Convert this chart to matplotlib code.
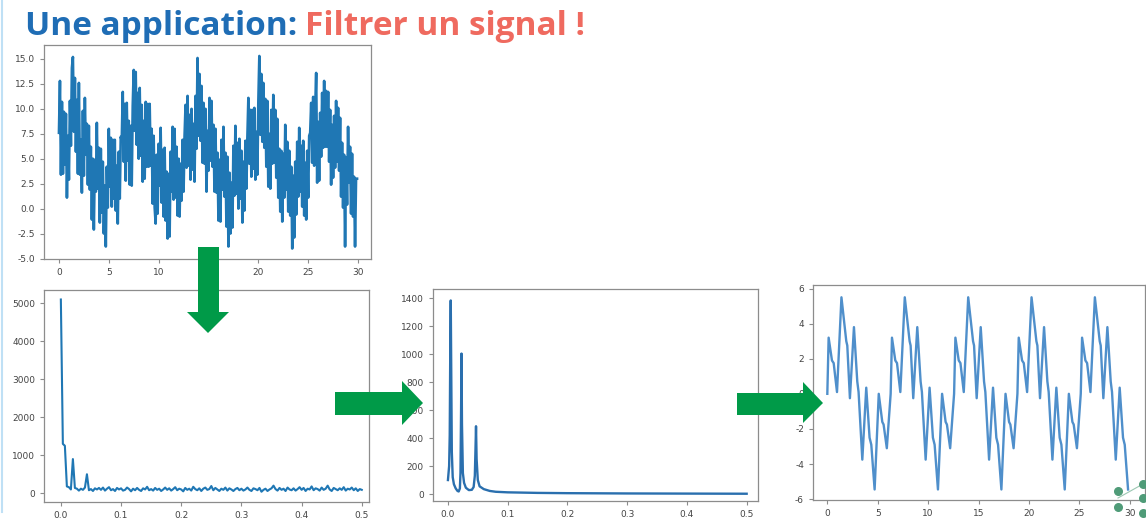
import numpy as np
import matplotlib
matplotlib.use("Agg")
import matplotlib.pyplot as plt
from matplotlib.patches import Polygon

plt.rcParams["axes.unicode_minus"] = False

# ---------------- data ----------------
# noisy signal, sampled every 0.1 s from t = 0 to 29.9
noisy_signal = [
    7.6, 12.8, 3.4, 10.7, 3.5, 9.7, 4.4, 9.5, 1.1, 7.3,
    2.9, 10.8, 6.3, 14.1, 15.2, 7.7, 13.1, 5.7, 10.9, 3.5,
    12.6, 3.4, 6.9, 1.6, 9.8, 3.3, 11.1, 5.4, 8.5, 2.4,
    8.3, 1.9, 6.2, -1.1, 5.0, -2.1, 4.9, 1.7, 8.6, 2.0,
    6.1, -1.4, 6.0, -0.4, 4.7, -2.5, 2.3, -3.8, 4.2, 0.1,
    8.0, 2.2, 7.1, 0.2, 6.9, 1.0, 6.9, -0.2, 4.3, -1.5,
    5.7, 1.0, 7.2,
    6.8, 11.7, 4.7, 10.5, 2.8, 10.6, 4.8, 8.8, 2.4, 8.3,
    2.3, 10.3, 13.9, 7.8, 13.7, 6.4, 11.6, 5.0, 12.1, 5.3,
    10.4, 2.7, 8.8, 3.0, 10.7, 4.2, 10.5, 4.2, 10.5, 4.3,
    8.0, 0.5, 7.3, 0.1, -1.5, 5.4, -0.5, 6.5, 2.3, 8.1,
    0.6, 5.9, -0.8, 6.1, -1.2, 3.7, -3.0, 3.5, -2.8, 5.7,
    1.7, 8.2, 0.9, 8.0, 1.1, 6.2, -0.7, 5.0, -0.8, 4.5,
    0.8, 6.9, 1.7,
    7.3, 10.4, 4.1, 11.3, 4.3, 9.4, 2.9, 10.0, 3.9, 8.5,
    2.7, 11.3, 6.0, 15.1, 7.3, 13.5, 6.8, 12.3, 4.6, 10.6,
    4.5, 10.0, 1.7, 7.8, 3.8, 11.1, 4.8, 10.8, 4.2, 8.4,
    1.7, 8.0, 1.6, 5.6, -1.2, 4.9, -1.3, 6.9, 1.9, 8.2,
    1.2, 5.6, -1.8, 5.2, -3.8, 3.6, -2.5, 2.6, -1.9, 6.3,
    1.3, 8.3, 1.5, 6.6, 0.0, 7.0, 1.0, 5.8, -1.4, 4.7,
    -0.2, 6.8, 2.0,
    7.1, 11.1, 4.5, 9.9, 3.2, 9.9, 4.0, 10.1, 2.9, 7.7,
    3.4, 10.7, 15.3, 7.4, 13.5, 6.7, 12.6, 6.1, 11.0, 4.2,
    10.8, 2.2, 7.5, 2.0, 9.9, 4.5, 11.4, 4.6, 9.9, 3.1,
    9.0, 1.1, 6.0, -0.3, 5.8, -1.3, 5.5, 1.1, 8.4, 1.9,
    6.7, -0.3, 5.8, -0.7, 4.2, -4.0, 3.3, -2.9, 4.7, -0.6,
    6.7, 1.2, 8.1, 1.7, 6.3, 0.2, 6.8, -0.7, 4.6, -1.1,
    5.8, 1.1, 7.3,
    7.6, 10.6, 4.6, 11.2, 4.3, 9.8, 13.6, 2.6, 8.7, 2.8,
    9.6, 5.2, 11.6, 6.1, 12.8, 6.2, 11.8, 6.2, 11.7, 4.7,
    9.9, 2.4, 8.4, 3.1, 9.3, 4.1, 10.8, 4.7, 10.1, 3.8,
    9.1, 1.2, 6.6, 0.1, 5.4, -3.8, 5.1, 0.4, 8.2, 2.6,
    6.2, -0.5, 5.5, -0.8, 3.2, -3.8, 3.0, 3.0,
]

# spectrum of the noisy signal (frequency 0 to 0.5)
spectrum_raw = [
    5100, 1300, 1250, 180, 160, 100, 900, 140, 120, 70,
    120, 90, 150, 500, 80, 110, 60, 130, 100, 140,
    90, 150, 70, 120, 160, 80, 110, 60, 140, 100,
    130, 70, 90, 150, 110, 50, 120, 80, 140, 90,
    60, 130, 100, 170, 80, 110, 70, 140, 90, 120,
    60, 100, 150, 90, 130, 70, 110, 160, 80, 120,
    100, 50, 140, 90, 120, 70, 170, 110, 80, 130,
    60, 120, 150, 90, 110, 190, 80, 140, 100, 60,
    120, 90, 150, 70, 130, 100, 60, 110, 140, 80,
    120, 70, 100, 150, 90, 60, 130, 110, 80, 140,
    40, 90, 120, 60, 100, 130, 200, 110, 70, 140,
    90, 120, 60, 150, 100, 80, 130, 70, 110, 160,
    90, 140, 60, 120, 100, 180, 80, 130, 110, 70,
    150, 90, 120, 200, 100, 60, 140, 110, 80, 130,
    90, 160, 70, 120, 100, 150, 80, 130, 60, 110,
    90,
]

# smoothed spectrum
freq_smooth = [0.000, 0.002, 0.003, 0.004, 0.0047, 0.0055, 0.0065, 0.008, 0.010,
               0.013, 0.016, 0.018, 0.020, 0.021, 0.022, 0.0227, 0.0235, 0.025,
               0.027, 0.030, 0.035, 0.040, 0.043, 0.045, 0.046, 0.047, 0.048,
               0.050, 0.053, 0.060, 0.070, 0.080, 0.100, 0.150, 0.200, 0.300,
               0.400, 0.500]
spectrum_smooth = [100, 200, 420, 1100, 1385, 900, 300, 120, 70,
                   40, 22, 18, 40, 150, 600, 1005, 500, 150,
                   80, 45, 28, 30, 50, 130, 300, 485, 250,
                   100, 55, 35, 22, 16, 12, 8, 6, 4,
                   3, 2]

# filtered signal (turning points)
t_filtered = [
    0.00, 0.13, 0.46, 0.63, 0.96, 1.40, 1.88, 1.98, 2.24, 2.64, 2.97, 3.10,
    3.47, 3.86, 4.19, 4.36, 4.69, 5.10, 5.45, 5.58, 5.90,
    6.28, 6.41, 6.74, 6.91, 7.24, 7.68, 8.16, 8.26, 8.52, 8.92, 9.25, 9.38,
    9.75, 10.14, 10.47, 10.64, 10.97, 11.38, 11.73, 11.86, 12.18,
    12.57, 12.70, 13.03, 13.20, 13.53, 13.97, 14.45, 14.55, 14.81, 15.21, 15.54, 15.67,
    16.04, 16.43, 16.76, 16.93, 17.26, 17.67, 18.02, 18.15, 18.47,
    18.85, 18.98, 19.31, 19.48, 19.81, 20.25, 20.73, 20.83, 21.09, 21.49, 21.82, 21.95,
    22.32, 22.71, 23.04, 23.21, 23.54, 23.95, 24.30, 24.43, 24.75,
    25.13, 25.26, 25.59, 25.76, 26.09, 26.53, 27.01, 27.11, 27.37, 27.77, 28.10, 28.23,
    28.60, 28.99, 29.32, 29.49, 29.82,
]
filtered_signal = [
    0.0, 3.2, 1.9, 1.75, 0.1, 5.5, 3.0, 2.75, -0.25, 3.8, 0.7, 0.1,
    -3.75, 0.35, -2.5, -2.9, -5.45, 0.0, -1.6, -1.75, -3.1,
    0.0, 3.2, 1.9, 1.75, 0.1, 5.5, 3.0, 2.75, -0.25, 3.8, 0.7, 0.1,
    -3.75, 0.35, -2.5, -2.9, -5.45, 0.0, -1.6, -1.75, -3.1,
    0.0, 3.2, 1.9, 1.75, 0.1, 5.5, 3.0, 2.75, -0.25, 3.8, 0.7, 0.1,
    -3.75, 0.35, -2.5, -2.9, -5.45, 0.0, -1.6, -1.75, -3.1,
    0.0, 3.2, 1.9, 1.75, 0.1, 5.5, 3.0, 2.75, -0.25, 3.8, 0.7, 0.1,
    -3.75, 0.35, -2.5, -2.9, -5.45, 0.0, -1.6, -1.75, -3.1,
    0.0, 3.2, 1.9, 1.75, 0.1, 5.5, 3.0, 2.75, -0.25, 3.8, 0.7, 0.1,
    -3.75, 0.35, -2.5, -2.9, -5.45,
]

t_noisy = np.arange(len(noisy_signal)) * 0.1
freq_raw = np.linspace(0, 0.5, len(spectrum_raw))

W, H = 1146, 524
BLUE = "#1f77b4"
GREEN = "#009a48"


def px_axes(fig, left, top, right, bottom):
    return fig.add_axes([left / W, 1 - bottom / H, (right - left) / W, (bottom - top) / H])


def style(ax):
    for sp in ax.spines.values():
        sp.set_color("#8c8c8c")
        sp.set_linewidth(0.9)
    ax.tick_params(labelsize=6.5, colors="#8c8c8c", labelcolor="#444444", length=3)


fig = plt.figure(figsize=(W / 100, H / 100), dpi=100)

ax1 = px_axes(fig, 44, 45, 371, 259)
ax1.plot(t_noisy, noisy_signal, color=BLUE, lw=1.9)
ax1.set_xlim(-1.5, 31.3)
ax1.set_ylim(-5.05, 16.4)
ax1.set_yticks(np.arange(-5, 15.1, 2.5))
ax1.set_xticks(range(0, 31, 5))
style(ax1)

ax2 = px_axes(fig, 44, 290, 369, 502)
ax2.plot(freq_raw, spectrum_raw, color=BLUE, lw=1.5)
ax2.set_xlim(-0.028, 0.512)
ax2.set_ylim(-230, 5350)
ax2.set_yticks(range(0, 5001, 1000))
style(ax2)

ax3 = px_axes(fig, 433, 289, 758, 501)
ax3.plot(freq_smooth, spectrum_smooth, color="#2a6fae", lw=1.7)
ax3.set_xlim(-0.025, 0.519)
ax3.set_ylim(-50, 1467)
ax3.set_yticks(range(0, 1401, 200))
style(ax3)

ax4 = px_axes(fig, 813, 285, 1145, 500)
ax4.plot(t_filtered, filtered_signal, color="#4f8fcb", lw=1.7)
ax4.set_xlim(-1.42, 31.5)
ax4.set_ylim(-6.05, 6.2)
ax4.set_yticks(range(-6, 7, 2))
ax4.set_xticks(range(0, 31, 5))
style(ax4)

# overlay in pixel coordinates for the title and the green arrows
ov = fig.add_axes([0, 0, 1, 1], zorder=10)
ov.set_xlim(0, W)
ov.set_ylim(H, 0)
ov.axis("off")
ov.patch.set_alpha(0)

ov.plot([1.5, 1.5], [0, 512], color="#bfe0f5", lw=1.5)

t1 = ov.text(25, 35, "Une application:", color="#1f6db5", fontsize=24,
             fontweight="bold", family="Open Sans", va="baseline")
fig.canvas.draw()
x_end = t1.get_window_extent().x1
ov.text(x_end + 8, 35, "Filtrer un signal !", color="#ef6a5f", fontsize=24,
        fontweight="bold", family="Open Sans", va="baseline")

arrow_down = [(198, 247), (219, 247), (219, 312), (229, 312), (208, 333),
              (187, 312), (198, 312)]
arrow_right1 = [(335, 392), (402, 392), (402, 381), (423, 403), (402, 425),
                (402, 415), (335, 415)]
arrow_right2 = [(737, 393), (803, 393), (803, 382), (823, 403), (803, 423),
                (803, 415), (737, 415)]
for pts in (arrow_down, arrow_right1, arrow_right2):
    ov.add_patch(Polygon(pts, closed=True, color=GREEN, lw=0))

# little green dots in the corner of the slide
dots_x = [1118, 1143, 1143, 1118, 1143]
dots_y = [491, 484, 498, 507, 513]
ov.plot([1118, 1143], [498, 484], color="#9cc7b2", lw=0.8)
ov.scatter(dots_x, dots_y, s=30, color="#4f9b78", zorder=11)

fig.savefig("out.png", dpi=100)
